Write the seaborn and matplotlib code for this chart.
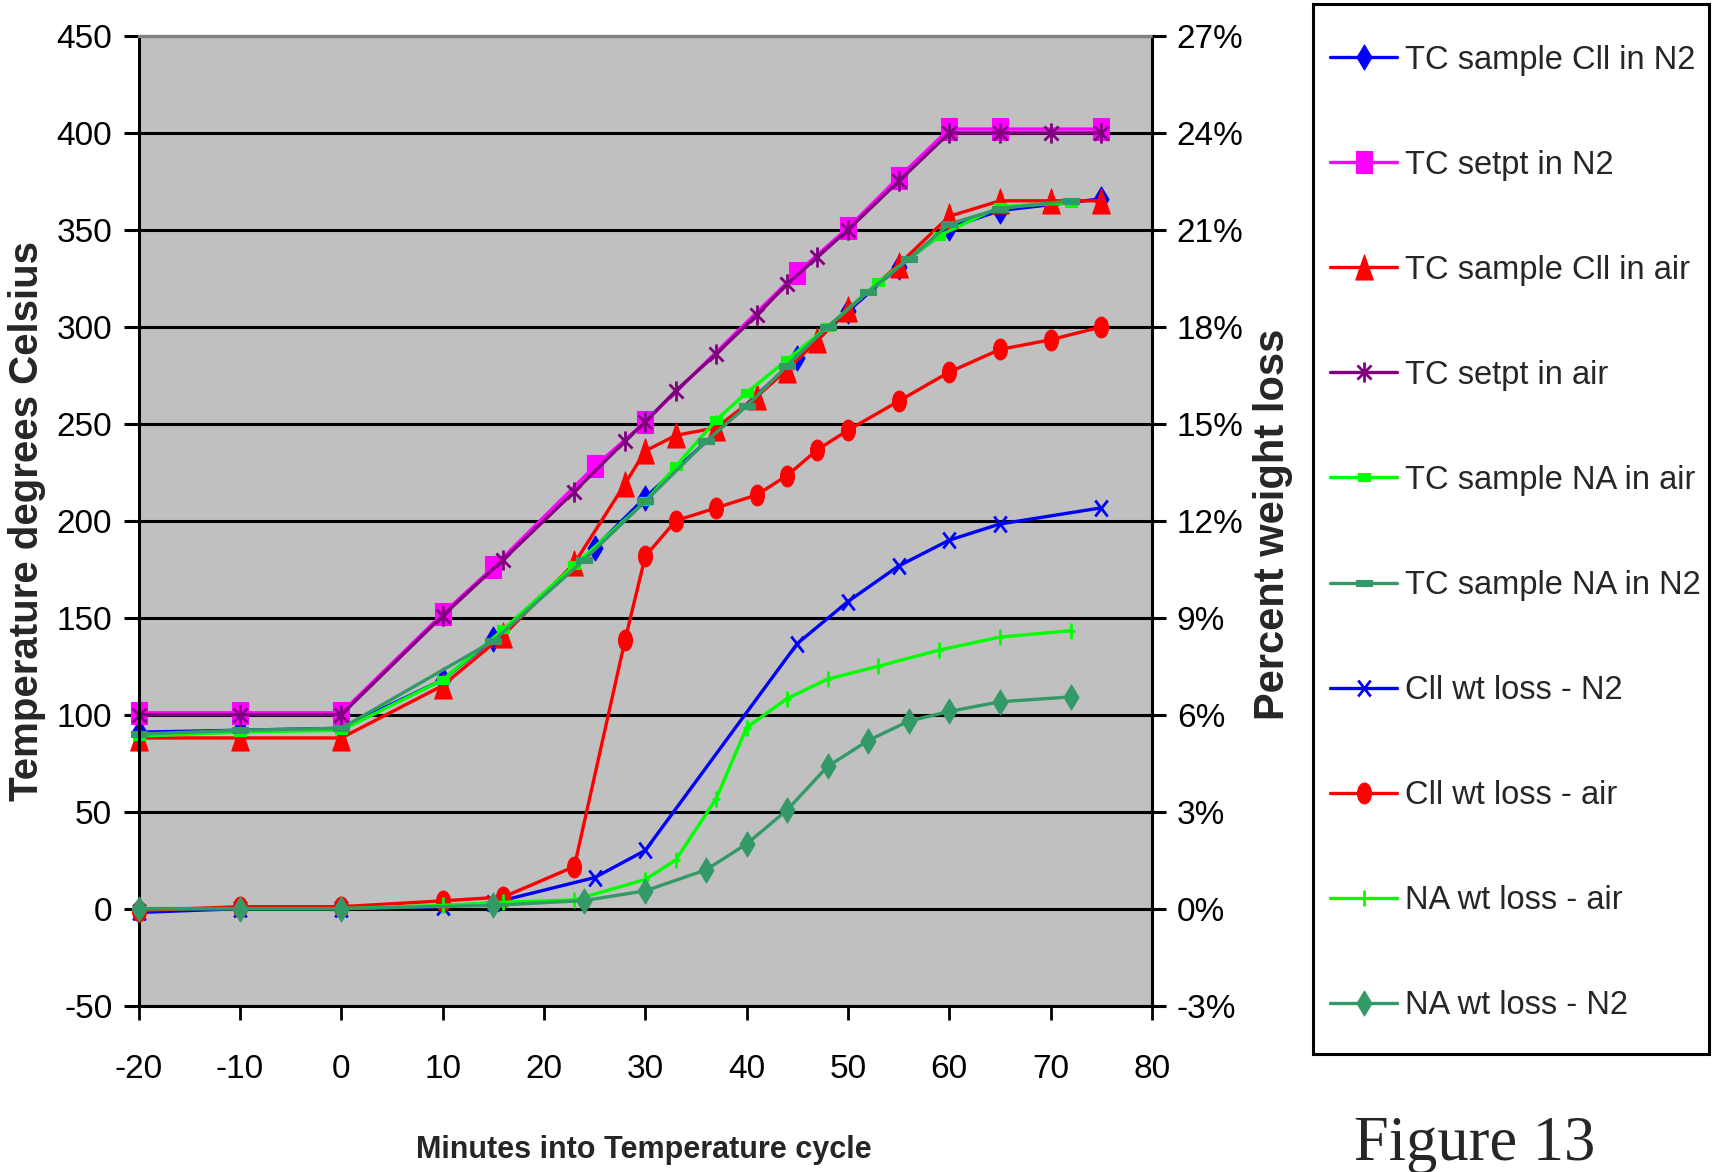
import matplotlib
matplotlib.use("Agg")
import matplotlib.pyplot as plt
from matplotlib.path import Path
from matplotlib.patches import Rectangle
from matplotlib.ticker import FuncFormatter
import numpy as np
import seaborn as sns

# ---- Cll sample run in nitrogen (minutes, deg C, % weight loss)
t_cll_n2 = [-20, -10, 0, 10, 15, 25, 30, 45, 50, 55, 60, 65, 75]
tc_cll_n2 = [91, 92, 93, 118, 139, 186, 212, 284, 308, 331, 351, 360, 366]
setpt_n2 = [101, 101, 101, 152, 176, 228, 251, 328, 351, 377, 402, 402, 402]
wt_cll_n2 = [-0.12, 0.0, 0.0, 0.06, 0.18, 0.96, 1.8, 8.2, 9.5, 10.6, 11.4, 11.9, 12.4]

# ---- Cll sample run in air
t_cll_air = [-20, -10, 0, 10, 16, 23, 28, 30, 33, 37, 41, 44, 47, 50, 55, 60, 65, 70, 75]
tc_cll_air = [88, 88, 88, 115, 141, 178, 219, 236, 244, 248, 264, 278, 293, 309, 332, 357, 365, 365, 365]
setpt_air = [100, 100, 100, 151, 180, 215, 241, 251, 267, 286, 306, 322, 336, 350, 375, 400, 400, 400, 400]
wt_cll_air = [-0.06, 0.06, 0.06, 0.24, 0.36, 1.3, 8.3, 10.9, 12.0, 12.4, 12.8, 13.4, 14.2, 14.8,
              15.7, 16.6, 17.3, 17.6, 18.0]

# ---- NA sample run in air
t_na_air = [-20, -10, 0, 10, 16, 23, 30, 33, 37, 40, 44, 48, 53, 59, 65, 72]
tc_na_air = [89, 91, 92, 118, 144, 177, 210, 228, 252, 266, 283, 300, 323, 347, 362, 364]
wt_na_air = [0.0, 0.0, 0.0, 0.1, 0.2, 0.27, 0.9, 1.5, 3.4, 5.6, 6.5, 7.1, 7.5, 8.0, 8.4, 8.6]

# ---- NA sample run in nitrogen
t_na_n2 = [-20, -10, 0, 15, 24, 30, 36, 40, 44, 48, 52, 56, 60, 65, 72]
tc_na_n2 = [90, 92, 93, 138, 180, 210, 241, 259, 280, 300, 318, 335, 353, 361, 365]
wt_na_n2 = [0.0, 0.0, 0.0, 0.1, 0.25, 0.55, 1.2, 2.0, 3.05, 4.4, 5.2, 5.8, 6.1, 6.4, 6.55]

x_ticks = list(range(-20, 81, 10))
temp_ticks = list(range(-50, 451, 50))
pct_ticks = list(range(-3, 28, 3))

sns.set_style("ticks")
plt.rcParams["font.family"] = ["Liberation Sans Narrow", "Liberation Sans", "DejaVu Sans"]
plt.rcParams["axes.unicode_minus"] = False


def closed(pts):
    pts = list(pts) + [pts[0]]
    codes = [Path.MOVETO] + [Path.LINETO] * (len(pts) - 2) + [Path.CLOSEPOLY]
    return Path(pts, codes)


def strokes(segs):
    verts, codes = [], []
    for a, b in segs:
        verts += [a, b]
        codes += [Path.MOVETO, Path.LINETO]
    return Path(verts, codes)


# tall, spreadsheet-style marker shapes
DIAMOND = closed([(0, 1), (0.6, 0), (0, -1), (-0.6, 0)])
BOX = closed([(-0.68, -1), (0.68, -1), (0.68, 1), (-0.68, 1)])
TRIANGLE = closed([(0, 1), (0.7, -1), (-0.7, -1)])
_c = Path.unit_circle()
ELLIPSE = Path(_c.vertices * np.array([0.67, 1.0]), _c.codes)
STAR = strokes([((0, -1), (0, 1)), ((-0.7, -0.7), (0.7, 0.7)), ((-0.7, 0.7), (0.7, -0.7))])
CROSS = strokes([((-0.78, -1), (0.78, 1)), ((-0.78, 1), (0.78, -1))])
PLUS = strokes([((0, -1), (0, 1)), ((-0.55, 0), (0.55, 0))])
SMALLBAR = closed([(-1, -0.7), (1, -0.7), (1, 0.7), (-1, 0.7)])
DASH = closed([(-1, -0.45), (1, -0.45), (1, 0.45), (-1, 0.45)])

BLUE, MAGENTA, RED, PURPLE = "#0000FF", "#FF00FF", "#FF0000", "#800080"
LIME, SEA = "#00FF00", "#339966"

fig = plt.figure(figsize=(17.12, 11.72), dpi=100)
ax = fig.add_axes([0.081, 0.142, 0.5918, 0.8273])
ax2 = ax.twinx()

ax.set_facecolor("#C0C0C0")
ax.set_xlim(-20, 80)
ax.set_ylim(-50, 450)
ax2.set_ylim(-3, 27)

temp_series = [
    ("TC sample Cll in N2", t_cll_n2, tc_cll_n2, BLUE, DIAMOND, 18, True),
    ("TC setpt in N2", t_cll_n2, setpt_n2, MAGENTA, BOX, 16, True),
    ("TC sample Cll in air", t_cll_air, tc_cll_air, RED, TRIANGLE, 18, True),
    ("TC setpt in air", t_cll_air, setpt_air, PURPLE, STAR, 14.5, False),
    ("TC sample NA in air", t_na_air, tc_na_air, LIME, SMALLBAR, 8, True),
    ("TC sample NA in N2", t_na_n2, tc_na_n2, SEA, DASH, 11, True),
]
loss_series = [
    ("Cll wt loss - N2", t_cll_n2, wt_cll_n2, BLUE, CROSS, 11.5, False),
    ("Cll wt loss - air", t_cll_air, wt_cll_air, RED, ELLIPSE, 15, True),
    ("NA wt loss - air", t_na_air, wt_na_air, LIME, PLUS, 11.5, False),
    ("NA wt loss - N2", t_na_n2, wt_na_n2, SEA, DIAMOND, 18, True),
]


def draw(axis, spec):
    name, t, v, col, mk, ms, filled = spec
    sns.lineplot(
        x=t, y=v, ax=axis, color=col, linewidth=2.4, marker=mk, markersize=ms,
        markeredgecolor=col, markerfacecolor=col if filled else "none",
        markeredgewidth=0.8 if filled else 2.0, label=name, legend=False,
        clip_on=False,
    )


for spec in temp_series:
    draw(ax, spec)
for spec in loss_series:
    draw(ax2, spec)

# axes, grid and ticks
ax.set_xticks(x_ticks)
ax.set_yticks(temp_ticks)
ax2.set_yticks(pct_ticks)
ax2.yaxis.set_major_formatter(FuncFormatter(lambda v, p: f"{v:.0f}%"))
ax.set_axisbelow(True)
ax.yaxis.grid(True, color="black", linewidth=2.2)
ax.xaxis.grid(False)
ax.set_xlabel("")
ax.set_ylabel("")
ax2.set_ylabel("")

for side in ("left", "right", "bottom"):
    ax.spines[side].set_color("black")
    ax.spines[side].set_linewidth(2.2)
    ax.spines[side].set_zorder(5)
ax.spines["top"].set_color("#808080")
ax.spines["top"].set_linewidth(2.4)
ax.spines["top"].set_zorder(5)
for s in ax2.spines.values():
    s.set_visible(False)

ax.tick_params(axis="y", which="major", left=True, right=False, direction="out",
               length=11, width=2.2, pad=8, labelsize=24, colors="black")
ax.tick_params(axis="x", which="major", bottom=True, direction="out",
               length=10, width=2, pad=25, labelsize=24, colors="black")
ax2.tick_params(axis="y", which="major", right=True, left=False, direction="out",
                length=10, width=2.2, pad=8, labelsize=24, colors="black")

# axis titles
fig.text(644 / 1712, 1 - 1150 / 1172, "Minutes into Temperature cycle",
         ha="center", va="center", fontsize=22, fontweight="bold")
fig.text(27 / 1712, 1 - 521 / 1172, "Temperature degrees Celsius",
         ha="center", va="center", rotation=90, fontsize=29, fontweight="bold",
         family=["Liberation Sans", "DejaVu Sans"])
fig.text(1273 / 1712, 1 - 524 / 1172, "Percent weight loss",
         ha="center", va="center", rotation=90, fontsize=30, fontweight="bold",
         family=["Liberation Sans", "DejaVu Sans"])

# legend in its own boxed panel
h1, l1 = ax.get_legend_handles_labels()
h2, l2 = ax2.get_legend_handles_labels()
fig.legend(h1 + h2, l1 + l2, loc="upper left", bbox_to_anchor=(0.777, 0.962),
           frameon=False, fontsize=23.5, handlelength=2.05, handletextpad=0.25,
           labelspacing=2.27, borderaxespad=0, borderpad=0)
fig.add_artist(Rectangle((0.767, 0.101), 0.2315, 0.8955, transform=fig.transFigure,
                         fill=False, edgecolor="black", linewidth=2.2))

fig.text(1354 / 1712, 12 / 1172, "Figure 13", ha="left", va="baseline",
         fontsize=45, family=["Liberation Serif", "DejaVu Serif"])

fig.savefig("out.png", dpi=100)
